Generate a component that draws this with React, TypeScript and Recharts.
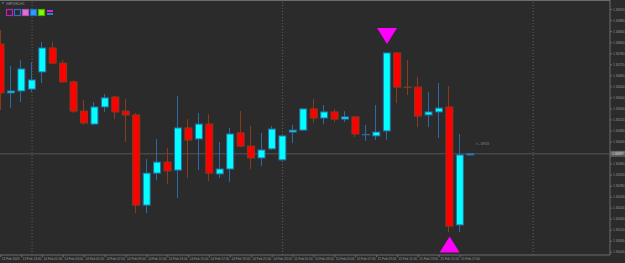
import { ComposedChart, Bar, Scatter, XAxis, YAxis, ReferenceLine } from 'recharts';

// H1 candles
const opens = [
  1.30795, 1.30618, 1.30625, 1.30632, 1.30694, 1.30781, 1.30726, 1.30658, 1.30552, 1.30505,
  1.30567, 1.30603, 1.30552, 1.30538, 1.30211, 1.30327, 1.30367, 1.30338, 1.30491, 1.30451,
  1.30505, 1.30324, 1.30342, 1.30473, 1.30425, 1.30382, 1.30415, 1.30375, 1.30476, 1.30483,
  1.3056, 1.30527, 1.30549, 1.30523, 1.30531, 1.30466, 1.30462, 1.3048, 1.30763, 1.30639,
  1.30639, 1.30538, 1.30549, 1.30567, 1.30139, 1.30393,
];
const highs = [
  1.30846, 1.30716, 1.30737, 1.3073, 1.30803, 1.30803, 1.30737, 1.30663, 1.30592, 1.30585,
  1.30614, 1.30607, 1.30596, 1.30545, 1.30378, 1.30451, 1.30418, 1.30607, 1.30523, 1.30545,
  1.30541, 1.3044, 1.30491, 1.30552, 1.30498, 1.30473, 1.30498, 1.30465, 1.30502, 1.30563,
  1.30596, 1.30574, 1.3056, 1.30552, 1.30534, 1.30502, 1.30574, 1.30766, 1.30766, 1.30737,
  1.30676, 1.30621, 1.30654, 1.30643, 1.30469, 1.30397,
];
const lows = [
  1.30556, 1.30563, 1.30585, 1.30621, 1.30654, 1.30724, 1.30654, 1.30545, 1.30502, 1.30502,
  1.30549, 1.30523, 1.3044, 1.30182, 1.30182, 1.30302, 1.30288, 1.30237, 1.30309, 1.30338,
  1.30298, 1.30309, 1.30295, 1.30422, 1.30342, 1.30353, 1.30411, 1.30372, 1.30436, 1.3048,
  1.30509, 1.30505, 1.30512, 1.30512, 1.30458, 1.30444, 1.30447, 1.30447, 1.30581, 1.3061,
  1.30494, 1.30494, 1.30454, 1.30113, 1.30113, 1.3039,
];
const closes = [
  1.30618, 1.30625, 1.30705, 1.30665, 1.30781, 1.30726, 1.30658, 1.30552, 1.30509, 1.30567,
  1.306, 1.30549, 1.30538, 1.30211, 1.30327, 1.30367, 1.30335, 1.30491, 1.30447, 1.30505,
  1.30327, 1.30342, 1.30469, 1.30425, 1.30382, 1.30411, 1.30487, 1.30462, 1.30483, 1.3056,
  1.30527, 1.30549, 1.30523, 1.30531, 1.30469, 1.30467, 1.30476, 1.30763, 1.30639, 1.30638,
  1.30534, 1.30549, 1.30563, 1.30135, 1.30393, 1.30397,
];

const timeTicks = [0, 2, 4, 6, 8, 10, 12, 14, 16, 18, 20, 22, 24, 26, 28, 30, 32, 34, 36, 38, 40, 42, 44];
const timeLabels = [
  '13 Feb 2020', '13 Feb 23:00', '14 Feb 01:00', '14 Feb 03:00', '14 Feb 05:00', '14 Feb 07:00',
  '14 Feb 09:00', '14 Feb 11:00', '14 Feb 13:00', '14 Feb 15:00', '14 Feb 17:00', '14 Feb 19:00',
  '14 Feb 21:00', '14 Feb 23:00', '15 Feb 01:00', '15 Feb 03:00', '15 Feb 05:00', '15 Feb 07:00',
  '15 Feb 09:00', '15 Feb 11:00', '15 Feb 13:00', '15 Feb 15:00', '15 Feb 17:00',
];
const priceTicks = [
  1.3092, 1.3088, 1.3084, 1.308, 1.3076, 1.3072, 1.3068, 1.3064, 1.306, 1.3056, 1.3052, 1.3048,
  1.3044, 1.304, 1.3036, 1.3032, 1.3028, 1.3024, 1.302, 1.3016, 1.3012, 1.3008, 1.3004,
];

const daySeparators = [3, 27, 51];
const sellArrows = [{ i: 37, price: 1.30824 }];
const buyArrows = [{ i: 43, price: 1.30068 }];
const lastPrice = 1.30397;

const BG = '#2b2b2b';
const AXIS = '#6c6c6c';
const TEXT = '#9a9a9a';
const BULL = '#00ffff';
const BEAR = '#ff0000';
const BULL_WICK = '#2b6aa6';
const BEAR_WICK = '#8b3a1c';
const FONT = 3.2;

const Candle = (props: any) => {
  const { x, y, width, height, payload } = props;
  const { open, close, high, low } = payload;
  const span = high - low || 1e-9;
  const toY = (v: number) => y + ((high - v) / span) * height;
  const cx = Math.round(x + width / 2) - 0.5;
  const up = close >= open;
  const wick = up ? BULL_WICK : BEAR_WICK;
  const top = toY(Math.max(open, close));
  const bottom = toY(Math.min(open, close));
  const body = bottom - top;
  return (
    <g>
      <line x1={cx} x2={cx} y1={y} y2={y + height} stroke={wick} strokeWidth={1} />
      {body < 1 ? (
        <line x1={x} x2={x + width} y1={(top + bottom) / 2} y2={(top + bottom) / 2} stroke={wick} strokeWidth={1.3} />
      ) : (
        <rect x={x + 0.5} y={top} width={width - 1} height={body} fill={up ? BULL : BEAR} stroke={wick} strokeWidth={1} />
      )}
    </g>
  );
};

const DownArrow = (props: any) => {
  const { cx, cy } = props;
  return <polygon points={`${cx - 10},${cy - 8} ${cx + 10},${cy - 8} ${cx},${cy + 8}`} fill="#ff00ff" />;
};

const UpArrow = (props: any) => {
  const { cx, cy } = props;
  return <polygon points={`${cx - 10},${cy + 8} ${cx + 10},${cy + 8} ${cx},${cy - 8}`} fill="#ff00ff" />;
};

const TimeTick = (props: any) => {
  const { x, y, payload } = props;
  const label = timeLabels[timeTicks.indexOf(payload.value)];
  return (
    <text x={x + 1} y={y} dy="0.8em" textAnchor="start" fontSize={FONT} fill={TEXT}>
      {label}
    </text>
  );
};

const PriceTag = (props: any) => {
  const vb = props.viewBox || {};
  const x = vb.x + vb.width;
  return (
    <g>
      <rect x={x} y={vb.y - 3} width={15} height={6} fill="#5c5c5c" />
      <text x={x + 2} y={vb.y} dy="0.35em" fontSize={FONT} fill="#e6e6e6">
        {lastPrice.toFixed(5)}
      </text>
    </g>
  );
};

const icons = [
  { fill: 'none', stroke: '#c020c0' },
  { fill: 'none', stroke: '#2f6fc0' },
  { fill: '#e070e0', stroke: '#b050b0' },
  { fill: '#2f9bff', stroke: '#2070c0' },
  { fill: '#7fff00', stroke: '#50b000' },
];

export default function App() {
  const data = opens.map((o, i) => ({
    i,
    open: o,
    high: highs[i],
    low: lows[i],
    close: closes[i],
    range: [lows[i], highs[i]],
  }));

  return (
    <div
      style={{
        position: 'fixed',
        left: 0,
        top: 0,
        width: 625,
        height: 263,
        background: BG,
        fontFamily: '"Liberation Sans", Arial, sans-serif',
      }}
    >
      <ComposedChart width={625} height={263} data={data} margin={{ top: 0, right: 0, bottom: 0, left: 0 }}>
        <XAxis
          type="number"
          dataKey="i"
          domain={[-0.07, 58.36]}
          allowDataOverflow
          ticks={timeTicks}
          interval={0}
          tick={<TimeTick />}
          tickSize={2}
          tickMargin={0}
          tickLine={{ stroke: AXIS }}
          axisLine={{ stroke: AXIS }}
          height={8}
        />
        <YAxis
          orientation="right"
          domain={[1.3003, 1.30955]}
          allowDataOverflow
          ticks={priceTicks}
          interval={0}
          tickFormatter={(v: number) => v.toFixed(5)}
          tick={{ fontSize: FONT, fill: TEXT }}
          tickSize={2}
          tickMargin={1}
          tickLine={{ stroke: AXIS }}
          axisLine={{ stroke: AXIS }}
          width={15}
        />
        {daySeparators.map((s) => (
          <ReferenceLine key={s} x={s} stroke="#5e5e5e" strokeDasharray="1 2" zIndex={-50} />
        ))}
        <ReferenceLine y={lastPrice} stroke="#474747" strokeWidth={1.5} zIndex={-50} />
        <ReferenceLine y={lastPrice} stroke="none" label={<PriceTag />} />
        <Bar dataKey="range" barSize={8} shape={Candle} isAnimationActive={false} />
        <Scatter data={sellArrows} dataKey="price" shape={DownArrow} isAnimationActive={false} />
        <Scatter data={buyArrows} dataKey="price" shape={UpArrow} isAnimationActive={false} />
      </ComposedChart>
      <svg width={625} height={263} style={{ position: 'absolute', left: 0, top: 0, pointerEvents: 'none' }}>
        <line x1={0} x2={610} y1={0.5} y2={0.5} stroke={AXIS} />
        <polygon points="2,2.5 4,2.5 3,4" fill={TEXT} />
        <text x={6} y={5} fontSize={FONT} fill={TEXT}>
          GBPUSD,H1
        </text>
        {icons.map((ic, k) => (
          <rect key={k} x={6.5 + k * 8} y={9.5} width={6} height={6} fill={ic.fill} stroke={ic.stroke} strokeWidth={1.2} />
        ))}
        <rect x={47} y={10} width={6} height={2} fill="#e020e0" />
        <rect x={47} y={13} width={6} height={2} fill="#2f7fd0" />
        <text x={476} y={145} fontSize={FONT} fill={TEXT}>
          {'<-- 09:13'}
        </text>
      </svg>
    </div>
  );
}
